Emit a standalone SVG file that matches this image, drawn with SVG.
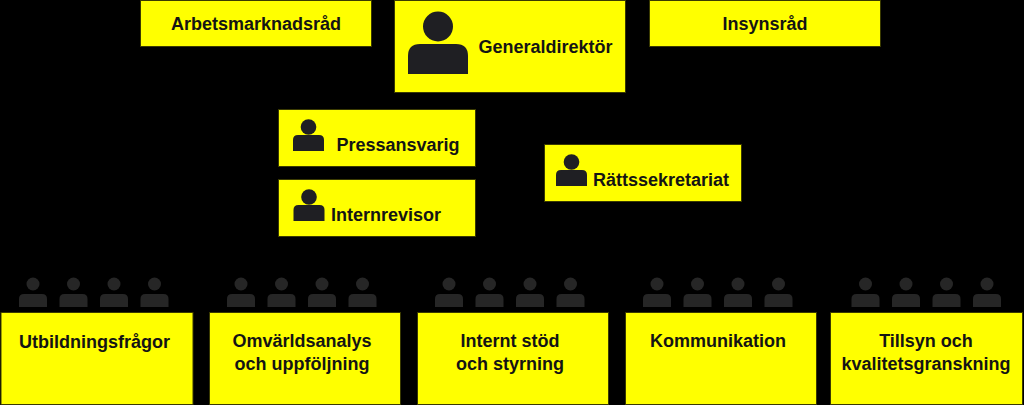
<svg xmlns="http://www.w3.org/2000/svg" width="1024" height="405" viewBox="0 0 1024 405">
<style>
.b{fill:#ffff00;stroke:#3a3a00;stroke-width:1}
text{font-family:"Liberation Sans",Arial,sans-serif;font-weight:700;font-size:18px;fill:#141414;text-anchor:middle}
.d{fill:#1f1f23}
.g{fill:#262626}
</style>
<defs>
<g id="s"><circle cx="0" cy="-17" r="7.800"/><path d="M-15.500 7V-4Q-15.500 -9 -10.500 -9H10.500Q15.500 -9 15.500 -4V7Z"/></g>
<g id="t"><circle cx="0" cy="6" r="6.500"/><path d="M-14 29V21Q-14 16 -9 16H9Q14 16 14 21V29Z"/></g>
</defs>
<rect width="1024" height="405" fill="#000"/>
<g id="connectors"></g>
<g id="arbetsmarknadsrad"><rect class="b" x="140.500" y="0.500" width="231" height="46"/><text x="256" y="30">Arbetsmarknadsråd</text></g>
<g id="generaldirektor"><rect class="b" x="394.500" y="0.500" width="231" height="92"/>
<g class="d"><circle cx="438" cy="26.500" r="15"/><path d="M408 74V56Q408 44 420 44H456Q468 44 468 56V74Z"/></g>
<text x="545.500" y="53">Generaldirektör</text></g>
<g id="insynsrad"><rect class="b" x="649.500" y="0.500" width="231" height="46"/><text x="765" y="30">Insynsråd</text></g>
<g id="pressansvarig"><rect class="b" x="278.500" y="109.500" width="197" height="57"/>
<use class="d" href="#s" x="308.500" y="144"/>
<text x="398" y="151">Pressansvarig</text></g>
<g id="internrevisor"><rect class="b" x="278.500" y="179.500" width="197" height="57"/>
<use class="d" href="#s" x="309" y="214"/>
<text x="386" y="221">Internrevisor</text></g>
<g id="rattssekretariat"><rect class="b" x="544.500" y="144.500" width="197" height="57"/>
<use class="d" href="#s" x="571.500" y="179"/>
<text x="661" y="186">Rättssekretariat</text></g>
<g id="utbildning"><rect class="b" x="1" y="312.500" width="192" height="92"/><text x="94.500" y="348">Utbildningsfrågor</text>
<g class="g"><use href="#t" x="33" y="278"/><use href="#t" x="73.500" y="278"/><use href="#t" x="114" y="278"/><use href="#t" x="154.500" y="278"/></g></g>
<g id="omvarld"><rect class="b" x="209.500" y="312.500" width="191" height="92"/><text x="302" y="347">Omvärldsanalys</text><text x="302" y="370">och uppföljning</text>
<g class="g"><use href="#t" x="241" y="278"/><use href="#t" x="281.500" y="278"/><use href="#t" x="322" y="278"/><use href="#t" x="362.500" y="278"/></g></g>
<g id="internt"><rect class="b" x="417.500" y="312.500" width="191" height="92"/><text x="510" y="347">Internt stöd</text><text x="510" y="370">och styrning</text>
<g class="g"><use href="#t" x="449" y="278"/><use href="#t" x="489.500" y="278"/><use href="#t" x="530" y="278"/><use href="#t" x="570.500" y="278"/></g></g>
<g id="kommunikation"><rect class="b" x="625.500" y="312.500" width="191" height="92"/><text x="718" y="347">Kommunikation</text>
<g class="g"><use href="#t" x="657" y="278"/><use href="#t" x="697.500" y="278"/><use href="#t" x="738" y="278"/><use href="#t" x="778.500" y="278"/></g></g>
<g id="tillsyn"><rect class="b" x="830.500" y="312.500" width="192" height="92"/><text x="926" y="347">Tillsyn och</text><text x="926" y="370">kvalitetsgranskning</text>
<g class="g"><use href="#t" x="865.500" y="278"/><use href="#t" x="906" y="278"/><use href="#t" x="946.500" y="278"/><use href="#t" x="987" y="278"/></g></g>
</svg>
